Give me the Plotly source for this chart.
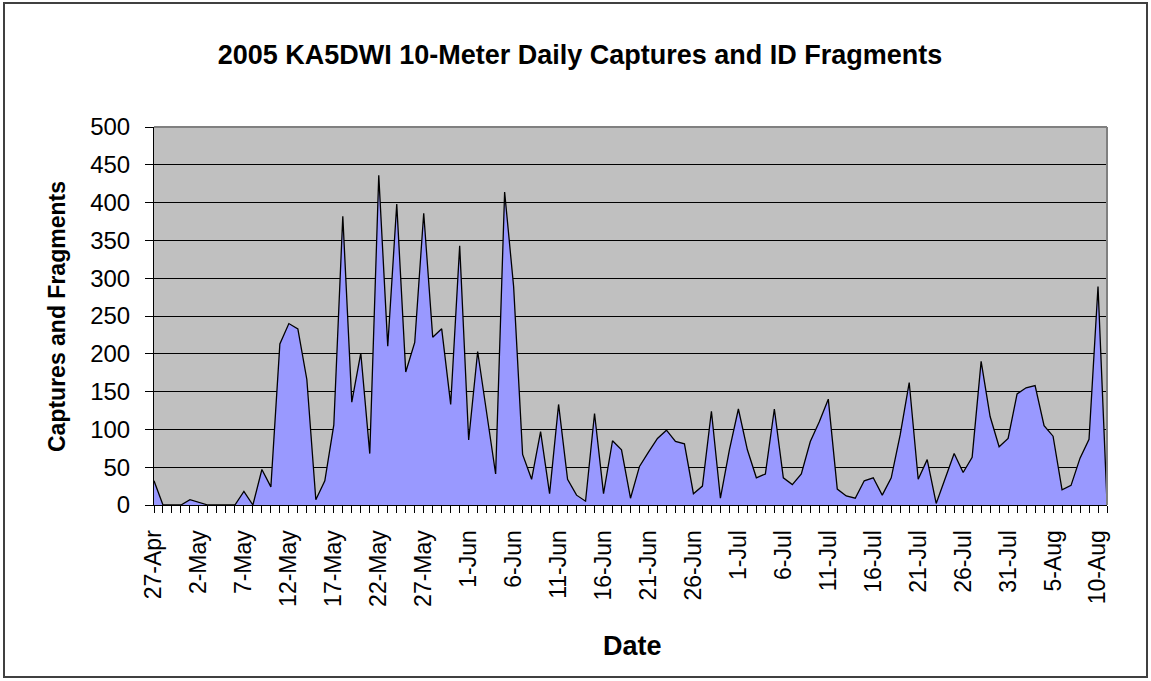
import plotly.graph_objects as go
import pandas as pd

title_text = "2005 KA5DWI 10-Meter Daily Captures and ID Fragments"
x_title = "Date"
y_title = "Captures and Fragments"

start_date = "2005-04-27"
end_date = "2005-08-11"

daily_counts = [
    32, 0, 0, 0, 7, 4, 0, 0, 0, 0,
    18, 0, 47, 24, 213, 240, 233, 166, 7, 32,
    106, 382, 136, 201, 68, 436, 210, 398, 176, 215,
    386, 222, 233, 133, 343, 86, 203, 121, 41, 414,
    289, 67, 34, 97, 15, 133, 34, 13, 5, 121,
    15, 85, 73, 9, 51, 70, 88, 99, 84, 81,
    15, 25, 124, 9, 73, 127, 73, 36, 41, 127,
    36, 27, 41, 84, 110, 140, 21, 12, 9, 32,
    36, 13, 36, 93, 162, 34, 60, 2, 35, 68,
    43, 63, 190, 117, 77, 88, 147, 155, 158, 105,
    91, 20, 26, 62, 87, 289, 3,
]

dates = pd.date_range(start_date, end_date, freq="D")

FONT = "Liberation Sans, Arial, sans-serif"
W, H = 1151, 681
L, R, T, B = 154, 1107, 127, 505  # plot area pixel edges

fig = go.Figure()
fig.add_trace(go.Scatter(
    x=dates, y=daily_counts, mode="lines",
    fill="tozeroy", fillcolor="#9999FF",
    line=dict(color="black", width=1.3),
    hoverinfo="x+y", showlegend=False,
))

DAY = 86400000
fig.update_xaxes(
    type="date", range=[start_date, end_date],
    tick0=start_date, dtick=5 * DAY, tickformat="%-d-%b",
    tickangle=-90, tickfont=dict(family=FONT, size=23, color="black"),
    ticks="outside", ticklen=7, tickcolor="black", tickwidth=1,
    minor=dict(dtick=DAY, ticks="outside", ticklen=7, tickcolor="black", tickwidth=1, showgrid=False),
    showgrid=False, showline=True, linecolor="black", linewidth=1,
    zeroline=False, ticklabelstandoff=8,
)
fig.update_yaxes(
    range=[0, 500], dtick=50, tick0=0,
    tickfont=dict(family=FONT, size=24, color="black"),
    ticks="outside", ticklen=8, tickcolor="black", tickwidth=1,
    showgrid=True, gridcolor="black", gridwidth=1,
    showline=True, linecolor="black", linewidth=1,
    zeroline=False, ticklabelstandoff=10,
)

pw, ph = R - L, B - T
def px_x(px):
    return (px - L) / pw
def px_y(py):
    return (B - py) / ph

fig.update_layout(
    width=W, height=H,
    margin=dict(l=L, r=W - R, t=T, b=H - B, pad=0),
    paper_bgcolor="white", plot_bgcolor="#C0C0C0",
    title=dict(text="<b>" + title_text + "</b>", x=580 / W, xref="container",
               y=1 - 55 / H, yref="container", xanchor="center", yanchor="middle",
               font=dict(family=FONT, size=27, color="black")),
    annotations=[
        dict(text="<b>" + y_title + "</b>", xref="paper", yref="paper",
             x=px_x(57), y=px_y(317), xanchor="center", yanchor="middle",
             textangle=-90, showarrow=False,
             font=dict(family=FONT, size=23, color="black")),
        dict(text="<b>" + x_title + "</b>", xref="paper", yref="paper",
             x=px_x(632), y=px_y(646), xanchor="center", yanchor="middle",
             showarrow=False, font=dict(family=FONT, size=27, color="black")),
    ],
    shapes=[
        dict(type="line", xref="paper", yref="paper", x0=0, x1=1, y0=1, y1=1,
             line=dict(color="#808080", width=2)),
        dict(type="line", xref="paper", yref="paper", x0=1, x1=1, y0=0, y1=1,
             line=dict(color="#808080", width=2)),
        dict(type="rect", xref="paper", yref="paper",
             x0=px_x(4), x1=px_x(1147), y0=px_y(677), y1=px_y(3),
             line=dict(color="#404040", width=2), fillcolor="rgba(0,0,0,0)", layer="below"),
    ],
)

fig.write_html("out.html", config={"displayModeBar": False},
               post_script="document.body.style.margin='0';")
